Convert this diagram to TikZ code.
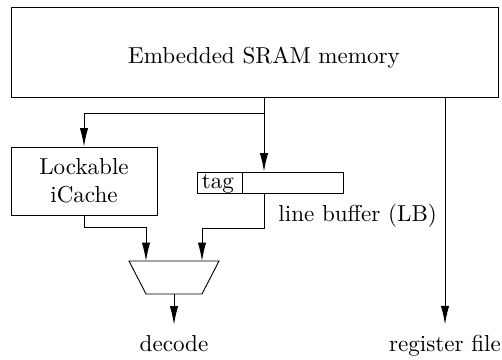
\documentclass[tikz,border=0pt]{standalone}
\usetikzlibrary{arrows.meta}
\newcommand\pxu{0.4334pt}
\begin{document}
\begin{tikzpicture}[x=0.4334pt,y=-0.4334pt,
  line width=0.4pt,
  box/.style={draw,rectangle,inner sep=0pt},
  arr/.style={-{Latex[length=8pt,width=3.6pt]}},
  lbl/.style={anchor=base,inner sep=4.3pt}]
\useasboundingbox (0,0) rectangle (502,359);
% memory
\node[box,minimum width=487*\pxu,minimum height=90*\pxu] (sram) at (254.5,52) {};
\node[anchor=base,inner sep=0pt] (sramtxt) at (264,63) {Embedded SRAM memory};
% cache
\node[box,minimum width=146*\pxu,minimum height=68*\pxu,align=center] (cache) at (84,181) {Lockable\\iCache};
% line buffer
\node[box,minimum width=45*\pxu,minimum height=21*\pxu] (tag) at (219.5,182.5) {};
\node[anchor=base,inner sep=0pt] (tagtxt) at (218,188) {tag};
\node[box,minimum width=101*\pxu,minimum height=21*\pxu] (lbdata) at (292.5,182.5) {};
\node[anchor=base west,inner sep=0pt] (lblabel) at (278,221) {line buffer (LB)};
% mux
\coordinate (mtl) at (129,261);
\coordinate (mtr) at (219,261);
\coordinate (mbr) at (202,294);
\coordinate (mbl) at (146,294);
\draw (mtl) -- (mtr) -- (mbr) -- (mbl) -- cycle;
\coordinate (m1) at (146,261);
\coordinate (m2) at (202,261);
\coordinate (muxout) at (174,294);
% outputs
\node[lbl] (decode) at (174,351) {decode};
\node[lbl] (regfile) at (445,351) {register file};
% connectors
\coordinate (split) at (264,113);
\draw[arr] (sram.south -| split) -- (lbdata.north -| split);
\draw[arr] (split) -| (cache.north);
\draw[arr] (sram.south -| regfile) -- (regfile.north);
\draw[arr] (cache.south) -- ++(0,12) -| (m1);
\draw[arr] (lbdata.south -| split) -- ++(0,35) -| (m2);
\draw[arr] (muxout) -- (decode.north);
\end{tikzpicture}
\end{document}
